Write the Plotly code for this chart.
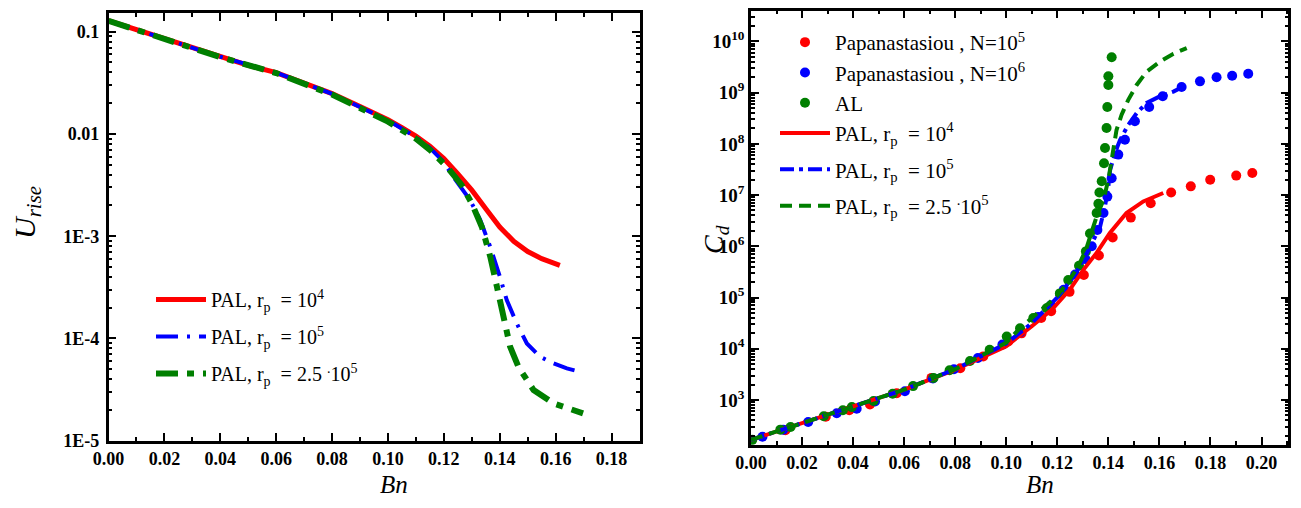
import plotly.graph_objects as go

# page body has an 8px margin: the figure is drawn 8px right/down of the window corner
OFF = 8
W, H = 1301 - 2 * OFF, 508 - 2 * OFF
F = "Liberation Serif"

# ---------------- Left panel data (U_rise vs Bn) ----------------
bn_L_r4 = [0, 0.01, 0.02, 0.03, 0.04, 0.05, 0.06, 0.07, 0.08, 0.09, 0.10, 0.105, 0.11, 0.115,
           0.12, 0.125, 0.13, 0.135, 0.14, 0.145, 0.15, 0.155, 0.16, 0.1615]
u_L_r4 = [0.128, 0.105, 0.0861, 0.0703, 0.0569, 0.0468, 0.0398, 0.0316, 0.0248, 0.0186, 0.0138,
          0.0115, 0.00955, 0.00759, 0.00575, 0.00407, 0.00282, 0.00186, 0.00123, 0.000891,
          0.000708, 0.000603, 0.000537, 0.000519]

bn_L_r5 = [0, 0.02, 0.04, 0.06, 0.08, 0.10, 0.11, 0.115, 0.12, 0.1234, 0.1294, 0.133, 0.1366,
           0.1401, 0.1425, 0.1461, 0.1497, 0.1545, 0.1592, 0.164, 0.1688]
u_L_r5 = [0.128, 0.0861, 0.0569, 0.0398, 0.0247, 0.0136, 0.0093, 0.0073, 0.0053, 0.0038, 0.00225,
          0.00145, 0.000785, 0.000398, 0.000237, 0.00014, 0.0000893, 0.0000661, 0.000057,
          0.0000509, 0.0000472]

bn_L_r25 = [0, 0.02, 0.04, 0.06, 0.08, 0.10, 0.11, 0.115, 0.121, 0.1264, 0.130, 0.1336, 0.1366,
            0.139, 0.1413, 0.1437, 0.1467, 0.1521, 0.1592, 0.1698]
u_L_r25 = [0.128, 0.0858, 0.0565, 0.0394, 0.0243, 0.0132, 0.0090, 0.0070, 0.0048, 0.00316,
           0.00209, 0.00123, 0.00063, 0.000319, 0.000162, 0.0000832, 0.0000525, 0.0000313,
           0.0000232, 0.0000185]

# ---------------- Right panel data (C_d vs Bn) ----------------
bn_pap5 = [0.0135, 0.0293, 0.0385, 0.0466, 0.0571, 0.0707, 0.082, 0.091, 0.1008, 0.106, 0.1137,
           0.1176, 0.1248, 0.1304, 0.1363, 0.1417, 0.1488, 0.1566, 0.1646, 0.1723, 0.1799,
           0.1901, 0.1964]
cd_pap5 = [257, 468, 631, 813, 1349, 2692, 4169, 7079, 13800, 19950, 39810, 53700, 128800,
           275400, 660700, 1.479e6, 3.63e6, 6.92e6, 1.122e7, 1.479e7, 1.995e7, 2.399e7, 2.692e7]

bn_pap6 = [0.0045, 0.0126, 0.0224, 0.0336, 0.0414, 0.0486, 0.0603, 0.0713, 0.0795, 0.0889,
           0.0985, 0.1055, 0.1125, 0.1175, 0.1225, 0.127, 0.131, 0.1335, 0.1357, 0.1381, 0.1396,
           0.1413, 0.1439, 0.1465, 0.1504, 0.1560, 0.1613, 0.1687, 0.1759, 0.1824, 0.1885, 0.1948]
cd_pap6 = [191, 263, 372, 550, 676, 933, 1479, 2630, 3981, 6607, 12020, 20890, 41690, 70790,
           141300, 281800, 562300, 1.0e6, 2.089e6, 4.467e6, 9.333e6, 2.138e7, 6.166e7, 1.202e8,
           2.754e8, 5.248e8, 8.511e8, 1.288e9, 1.66e9, 1.995e9, 2.138e9, 2.344e9]

bn_al = [0.0005, 0.0115, 0.0155, 0.0285, 0.036, 0.0395, 0.048, 0.0555, 0.0635, 0.0715, 0.0778,
         0.0858, 0.0935, 0.1002, 0.1054, 0.1106, 0.1158, 0.1210, 0.1243, 0.1285, 0.1312, 0.1328,
         0.1354, 0.1361, 0.1365, 0.1374, 0.1383, 0.1387, 0.1393, 0.1396, 0.1400, 0.1400, 0.1413]
cd_al = [166, 263, 295, 479, 631, 724, 955, 1318, 1862, 2692, 3802, 5754, 9550, 17380, 25120,
         39810, 61660, 120200, 218800, 416900, 794300, 1.778e6, 4.467e6, 6.761e6, 1.122e7,
         1.862e7, 4.169e7, 8.318e7, 2.042e8, 5.248e8, 1.413e9, 2.089e9, 4.898e9]

bn_R_r4 = [0, 0.02, 0.04, 0.06, 0.08, 0.10, 0.11, 0.118, 0.125, 0.1302, 0.1354, 0.1406, 0.1471,
           0.1537, 0.1615]
cd_R_r4 = [166, 355, 759, 1585, 3890, 11220, 27540, 58880, 144500, 346700, 741300, 1.82e6,
           4.467e6, 7.499e6, 1.096e7]

bn_R_r5 = [0, 0.02, 0.04, 0.06, 0.08, 0.10, 0.11, 0.12, 0.127, 0.1325, 0.1368, 0.1387, 0.1400,
           0.1407, 0.1426, 0.1446, 0.1478, 0.1511, 0.155, 0.1603, 0.1655, 0.1694]
cd_R_r5 = [166, 355, 759, 1585, 3981, 12590, 31620, 1.0e5, 2.818e5, 8.913e5, 2.455e6, 6.026e6,
           1.479e7, 3.09e7, 6.607e7, 1.202e8, 2.344e8, 3.981e8, 6.31e8, 8.511e8, 1.047e9, 1.318e9]

bn_R_r25 = [0, 0.02, 0.04, 0.06, 0.08, 0.09, 0.10, 0.1054, 0.1132, 0.1197, 0.1243, 0.1282,
            0.1312, 0.1354, 0.1381, 0.1400, 0.1413, 0.1432, 0.1452, 0.1478, 0.1511, 0.155,
            0.1603, 0.1655, 0.1707]
cd_R_r25 = [166, 355, 759, 1585, 3981, 7079, 13180, 25120, 53700, 104700, 204200, 407400,
            851100, 3.802e6, 8.128e6, 1.995e7, 4.898e7, 1.862e8, 3.715e8, 7.244e8, 1.413e9,
            2.57e9, 4.074e9, 5.754e9, 7.413e9]

# tick labels
left_yticks = [1e-5, 1e-4, 1e-3, 1e-2, 1e-1]
left_ytext = ["1E-5", "1E-4", "1E-3", "0.01", "0.1"]
right_yticks = [10 ** k for k in range(3, 11)]
right_ytext = ["10<sup>%d</sup>" % k for k in range(3, 11)]

RED, BLUE, GREEN = "#ff0000", "#0000ff", "#007f00"

lab_r4 = "PAL, r<sub>p</sub>  = 10<sup>4</sup>"
lab_r5 = "PAL, r<sub>p</sub>  = 10<sup>5</sup>"
lab_r25 = "PAL, r<sub>p</sub>  = 2.5 <sup>.</sup>10<sup>5</sup>"

fig = go.Figure()

# left panel
fig.add_trace(go.Scatter(x=bn_L_r4, y=u_L_r4, mode="lines", name=lab_r4, legendgroup="L1",
                         line=dict(color=RED, width=5), xaxis="x", yaxis="y", legend="legend"))
fig.add_trace(go.Scatter(x=bn_L_r5, y=u_L_r5, mode="lines", name=lab_r5, legendgroup="L2",
                         line=dict(color=BLUE, width=4, dash="22px,9px,3px,9px"),
                         xaxis="x", yaxis="y", legend="legend"))
fig.add_trace(go.Scatter(x=bn_L_r25, y=u_L_r25, mode="lines", name=lab_r25, legendgroup="L3",
                         line=dict(color=GREEN, width=6, dash="22px,9px,7px,9px"),
                         xaxis="x", yaxis="y", legend="legend"))

# right panel
fig.add_trace(go.Scatter(x=bn_pap5, y=cd_pap5, mode="markers", name="Papanastasiou , N=10<sup>5</sup>",
                         legendgroup="R1",
                         marker=dict(color=RED, size=10), xaxis="x2", yaxis="y2", legend="legend2"))
fig.add_trace(go.Scatter(x=bn_pap6, y=cd_pap6, mode="markers", name="Papanastasiou , N=10<sup>6</sup>",
                         legendgroup="R1",
                         marker=dict(color=BLUE, size=10), xaxis="x2", yaxis="y2", legend="legend2"))
fig.add_trace(go.Scatter(x=bn_al, y=cd_al, mode="markers", name="AL", legendgroup="R1",
                         marker=dict(color=GREEN, size=10), xaxis="x2", yaxis="y2", legend="legend2"))
fig.add_trace(go.Scatter(x=bn_R_r4, y=cd_R_r4, mode="lines", name=lab_r4, legendgroup="R1",
                         line=dict(color=RED, width=4), xaxis="x2", yaxis="y2", legend="legend2"))
fig.add_trace(go.Scatter(x=bn_R_r5, y=cd_R_r5, mode="lines", name=lab_r5, legendgroup="R2",
                         line=dict(color=BLUE, width=4, dash="14px,5px,4px,5px"),
                         xaxis="x2", yaxis="y2", legend="legend2"))
fig.add_trace(go.Scatter(x=bn_R_r25, y=cd_R_r25, mode="lines", name=lab_r25, legendgroup="R3",
                         line=dict(color=GREEN, width=4, dash="12px,7px"),
                         xaxis="x2", yaxis="y2", legend="legend2"))

tickfont = dict(family=F, size=18, color="black", weight="bold")
base = dict(showline=True, linewidth=2.5, linecolor="black", mirror="ticks", ticks="inside",
            ticklen=8, tickwidth=2, tickcolor="black", showgrid=False, zeroline=False,
            tickfont=tickfont, automargin=False)


def px_x(a, b):
    # a, b: window pixel columns
    return [(a - OFF) / W, (b - OFF) / W]


def px_y(top, bottom):
    # top, bottom: window pixel rows
    return [(H - (bottom - OFF)) / H, (H - (top - OFF)) / H]


def pos(x, y):
    return (x - OFF) / W, 1 - (y - OFF) / H


minor_left = [m * 10 ** e for e in range(-5, 0) for m in range(2, 10)]
minor_right = [m * 10 ** e for e in range(2, 11) for m in range(2, 10)]

lx, ly = pos(143 + OFF, 272 + OFF)
rx, ry = pos(767 + OFF, 14 + OFF)

fig.update_layout(
    width=W, height=H, margin=dict(l=0, r=0, t=0, b=0),
    paper_bgcolor="white", plot_bgcolor="white",
    font=dict(family=F, color="black"),
    xaxis=dict(base, domain=px_x(108.5, 639.5), range=[0, 0.19], tickmode="linear", tick0=0,
               dtick=0.02, tickformat=".2f", anchor="y", ticklabelstandoff=0,
               minor=dict(ticks="inside", ticklen=4, tickwidth=2, tickcolor="black",
                          tickmode="linear", tick0=0, dtick=0.01)),
    yaxis=dict(base, domain=px_y(13.3, 440.7), type="log", range=[-5, -0.82], tickmode="array",
               tickvals=left_yticks, ticktext=left_ytext, anchor="x", ticklabelstandoff=3,
               minor=dict(ticks="inside", ticklen=4, tickwidth=2, tickcolor="black",
                          tickmode="array", tickvals=minor_left)),
    xaxis2=dict(base, domain=px_x(751, 1288.3), range=[0, 0.2105], tickmode="linear", tick0=0,
                dtick=0.02, tickformat=".2f", anchor="y2", ticklabelstandoff=0,
                minor=dict(ticks="inside", ticklen=4, tickwidth=2, tickcolor="black",
                           tickmode="linear", tick0=0, dtick=0.01)),
    yaxis2=dict(base, domain=px_y(10.7, 445), type="log", range=[2.12, 10.6], tickmode="array",
                tickvals=right_yticks, ticktext=right_ytext, anchor="x2", ticklabelstandoff=0,
                tickfont=dict(family=F, size=19, color="black", weight="bold"),
                minor=dict(ticks="inside", ticklen=4, tickwidth=2, tickcolor="black",
                           tickmode="array", tickvals=minor_right)),
    legend=dict(x=lx, y=ly, xanchor="left", yanchor="top",
                bgcolor="rgba(0,0,0,0)", font=dict(family=F, size=20, color="black"),
                tracegroupgap=8, itemwidth=50, traceorder="grouped"),
    legend2=dict(x=rx, y=ry, xanchor="left", yanchor="top",
                 bgcolor="rgba(0,0,0,0)", font=dict(family=F, size=21, color="black"),
                 tracegroupgap=6, itemwidth=50, traceorder="grouped"),
    showlegend=True,
)

ann_font = dict(family=F, size=25, color="black", style="italic")
for ax in [394, 1040]:
    px_ = (ax - OFF) / W
    fig.add_annotation(x=px_, y=0, xref="paper", yref="paper", text="Bn",
                       xanchor="center", yanchor="bottom", showarrow=False, font=ann_font)
ux, uy = pos(27, 213)
fig.add_annotation(x=ux, y=uy, xref="paper", yref="paper",
                   text="U<sub>rise</sub>", textangle=-90, showarrow=False,
                   xanchor="center", yanchor="middle",
                   font=dict(family=F, size=30, color="black", style="italic"))
cx, cy = pos(715, 240)
fig.add_annotation(x=cx, y=cy, xref="paper", yref="paper",
                   text="C<sub>d</sub>", textangle=-90, showarrow=False,
                   xanchor="center", yanchor="middle",
                   font=dict(family=F, size=28, color="black", style="italic"))

fig.write_html("out.html")
